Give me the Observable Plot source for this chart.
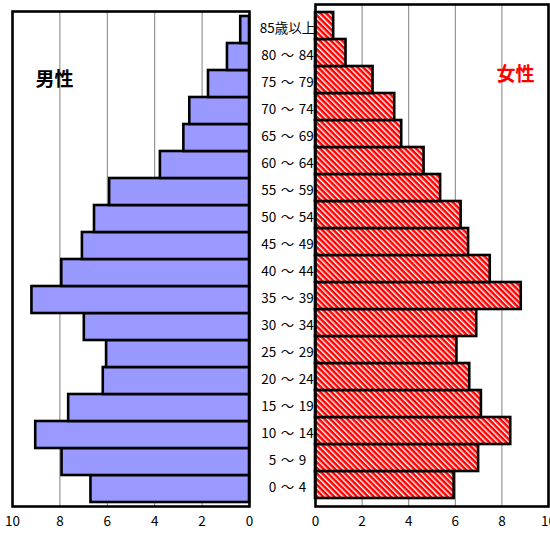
<!DOCTYPE html>
<html>
<head>
<meta charset="utf-8">
<script src="https://cdn.jsdelivr.net/npm/d3@7"></script>
<script src="https://cdn.jsdelivr.net/npm/@observablehq/plot@0.6"></script>
<style>
  body { margin: 0; background: white; }
  #wrap { position: relative; width: 550px; height: 534px; overflow: hidden; }
  #wrap svg { position: absolute; top: 0; background: transparent !important; }
</style>
</head>
<body>
<div id="wrap"></div>
<script>
const ages = ["0 ～ 4", "5 ～ 9", "10 ～ 14", "15 ～ 19", "20 ～ 24", "25 ～ 29", "30 ～ 34", "35 ～ 39", "40 ～ 44", "45 ～ 49", "50 ～ 54", "55 ～ 59", "60 ～ 64", "65 ～ 69", "70 ～ 74", "75 ～ 79", "80 ～ 84", "85歳以上"];
const male = [6.69, 7.91, 9.02, 7.63, 6.17, 6.03, 6.97, 9.18, 7.92, 7.05, 6.54, 5.90, 3.76, 2.77, 2.52, 1.73, 0.93, 0.37];
const female = [5.95, 7.00, 8.38, 7.12, 6.62, 6.07, 6.92, 8.83, 7.50, 6.57, 6.25, 5.37, 4.66, 3.70, 3.40, 2.47, 1.31, 0.78];
const xTicks = [0, 2, 4, 6, 8, 10];
const gridTicks = [2, 4, 6, 8];
const maleTitle = "男性";
const femaleTitle = "女性";

const font = "'Noto Sans CJK JP', 'Noto Sans', sans-serif";
const yDomain = ages.slice().reverse();
const maleData = ages.map((a, i) => ({age: a, v: male[i]}));
const femaleData = ages.map((a, i) => ({age: a, v: female[i]}));

const left = Plot.plot({
  width: 320, height: 534,
  marginLeft: 12, marginRight: 71, marginTop: 11, marginBottom: 28,
  style: {fontFamily: font, fontSize: "13px", color: "black", background: "transparent", wordSpacing: "1.5px"},
  x: {domain: [0, 10], reverse: true, ticks: xTicks, label: null},
  y: {domain: yDomain, padding: 0, axis: null},
  marks: [
    Plot.ruleX(gridTicks, {stroke: "#808080", strokeWidth: 1}),
    Plot.barX(maleData, {x: "v", y: "age", fill: "#9999ff", stroke: "black", strokeWidth: 2.6}),
    Plot.ruleX(gridTicks, {x: d => d, y: () => ages[0], insetTop: 24.5, stroke: "black", strokeWidth: 1.5}),
    Plot.frame({stroke: "black", strokeWidth: 2.6}),
    Plot.axisX({ticks: xTicks, tickSize: 0, tickPadding: 10, tickFormat: d => String(d), fontSize: 13.5}),
    Plot.text(ages, {y: d => d, text: d => d, frameAnchor: "right", dx: 38, dy: -1, textAnchor: "middle", fontSize: 13.5, fill: "black"}),
    Plot.text([maleTitle], {frameAnchor: "top-left", dx: 42, dy: 68, textAnchor: "middle", lineAnchor: "middle", fontSize: 19, fontWeight: "bold", fill: "black", text: d => d})
  ]
});
left.style.left = "0px";

const right = Plot.plot({
  width: 290, height: 534,
  marginLeft: 40, marginRight: 17, marginTop: 4, marginBottom: 28,
  style: {fontFamily: font, fontSize: "13px", color: "black", background: "transparent"},
  x: {domain: [0, 10], ticks: xTicks, label: null},
  y: {domain: yDomain, padding: 0, axis: null},
  marks: [
    Plot.ruleX(gridTicks, {stroke: "#808080", strokeWidth: 1}),
    Plot.barX(femaleData, {x: "v", y: "age", fill: "url(#stripeRed)", stroke: "black", strokeWidth: 2.6}),
    Plot.ruleX(gridTicks, {x: d => d, y: () => ages[0], insetTop: 25, stroke: "black", strokeWidth: 1.5}),
    Plot.frame({stroke: "black", strokeWidth: 2.6}),
    Plot.axisX({ticks: xTicks, tickSize: 0, tickPadding: 10, tickFormat: d => String(d), fontSize: 13.5}),
    Plot.text([femaleTitle], {frameAnchor: "top-right", dx: -33, dy: 70, textAnchor: "middle", lineAnchor: "middle", fontSize: 19, fontWeight: "bold", fill: "#ff0000", text: d => d})
  ]
});
right.style.left = "275px";
right.insertAdjacentHTML("afterbegin",
  '<defs><pattern id="stripeRed" patternUnits="userSpaceOnUse" width="4" height="4" patternTransform="rotate(45)">' +
  '<rect width="4" height="4" fill="white"/><rect width="4" height="2.6" fill="#ff0000"/></pattern></defs>');

const wrap = document.getElementById("wrap");
wrap.appendChild(left);
wrap.appendChild(right);
</script>
</body>
</html>
